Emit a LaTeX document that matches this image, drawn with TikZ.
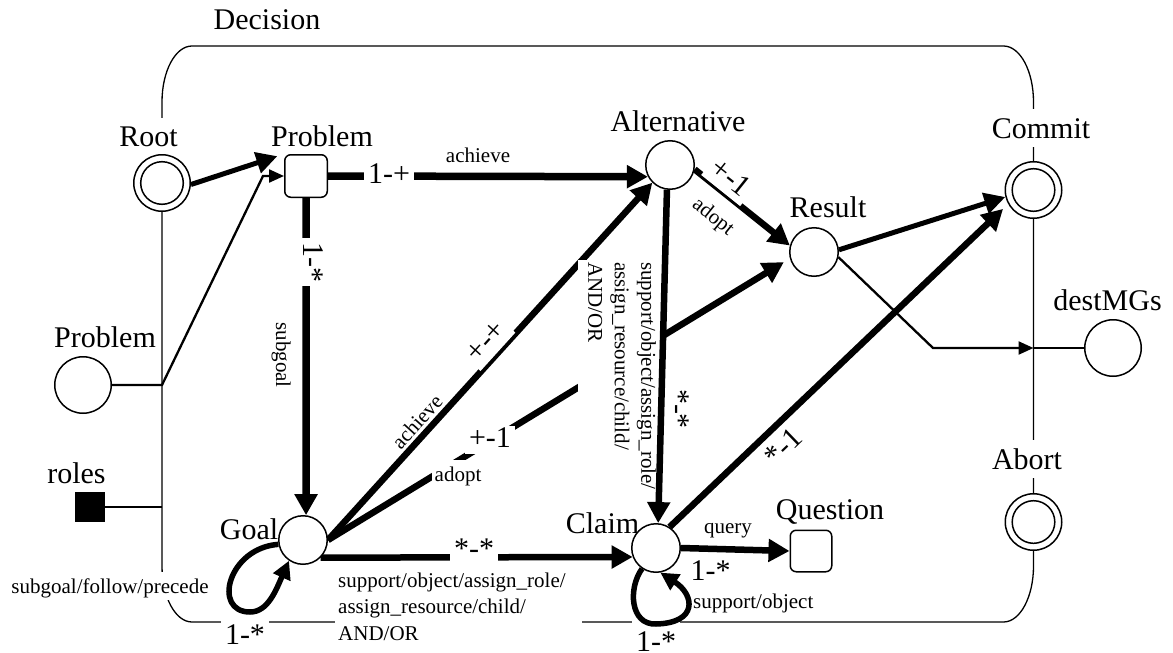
\documentclass[tikz,border=0pt]{standalone}
\usepackage{fontspec}
\setmainfont{Liberation Serif}
\usetikzlibrary{arrows.meta}
\newcommand\bigf{\fontsize{30}{36}\selectfont}
\newcommand\smallf{\fontsize{21}{26.5}\selectfont}
\pgfdeclarelayer{edges}
\pgfsetlayers{edges,main}
\tikzset{
  ring/.style={circle, draw, fill=white, line width=1.5pt, inner sep=0pt, minimum size=48.5pt},
  bigring/.style={ring, minimum size=56.5pt},
  endring/.style={bigring, path picture={\draw[line width=1.5pt] (path picture bounding box.center) circle[radius=21.3pt];}},
  sq/.style={rectangle, rounded corners=6pt, draw, fill=white, line width=1.5pt, inner sep=0pt, minimum size=42.5pt},
  blk/.style={rectangle, fill=black, inner sep=0pt, minimum size=30pt},
  lab/.style={font=\bigf, anchor=base, text height=26.7pt, text depth=6.5pt, inner xsep=3pt, inner ysep=2.5pt},
  cut/.style={fill=white},
  mult/.style={font=\bigf, anchor=base, fill=white, inner xsep=4pt, inner ysep=1.5pt, text depth=5.8pt},
  rel/.style={font=\smallf, anchor=base, inner xsep=3pt, inner ysep=2.5pt, text height=18.7pt, text depth=4.6pt},
  relblock/.style={font=\smallf, align=left, fill=white, inner xsep=2pt, inner ysep=2pt},
  heavy/.style={line width=6.5pt, -{Triangle[length=21pt,width=22pt]}},
  heavier/.style={heavy, line width=7.5pt},
  medium/.style={line width=5pt, -{Triangle[length=21pt,width=21pt]}},
  loopline/.style={line width=5.5pt, -{Triangle[length=18pt,width=18pt]}},
  wire/.style={line width=2.3pt},
  wirearrow/.style={wire, -{Triangle[length=15pt,width=13pt]}},
  frame/.style={line width=1.3pt}
}
\begin{document}
\begin{tikzpicture}[x=1pt,y=-1pt]
\useasboundingbox (0,0) rectangle (1173,653);

% state labels
\node[lab] (decl) at (267,29.3) {Decision};
\node[lab, cut] (rootl) at (148.5,146.7) {Root};
\node[lab] (probl) at (322,146.7) {Problem};
\node[lab] (pcl) at (105,347) {Problem};
\node[lab] (rolesl) at (76.5,483) {roles};
\node[lab] (goall) at (249,539.5) {Goal};
\node[lab] (altl) at (678,131.7) {Alternative};
\node[lab] (resl) at (828,217) {Result};
\node[lab, cut] (coml) at (1041,138.3) {Commit};
\node[lab] (destl) at (1107.5,310) {destMGs};
\node[lab, cut] (abl) at (1027,469.3) {Abort};
\node[lab] (claiml) at (602.5,533.3) {Claim};
\node[lab] (questl) at (830,519.3) {Question};

% states
\node[endring] (root) at (162,183) {};
\node[sq] (prob) at (306,176) {};
\node[bigring] (pc) at (83,385) {};
\node[blk] (roles) at (90,507) {};
\node[ring] (goal) at (303,540) {};
\node[ring] (alt) at (670,165) {};
\node[ring] (result) at (814,252) {};
\node[endring] (commit) at (1033.5,190) {};
\node[bigring] (dest) at (1113,348) {};
\node[endring] (abort) at (1033.5,522) {};
\node[ring] (claim) at (656,548) {};
\node[sq, minimum size=41.5pt] (quest) at (811,551) {};

% junctions on the frame
\coordinate (pjoin) at (162,385);
\coordinate (rjoin) at (162,507);
\coordinate (dbend) at (933,348);
\coordinate (djoin) at (1033.5,348);

\begin{pgfonlayer}{edges}
% decision frame
\draw[frame] (192,46) -- (1003.5,46) .. controls (1020.1,46) and (1033.5,71) .. (1033.5,102)
  -- (1033.5,566) .. controls (1033.5,597) and (1020.1,622) .. (1003.5,622)
  -- (192,622) .. controls (175.4,622) and (162,597) .. (162,566)
  -- (162,102) .. controls (162,71) and (175.4,46) .. (192,46) -- cycle;

% transitions
\draw[medium, shorten >=7pt] (root.-3) -- (prob.north west);
\draw[wirearrow] (pc.east) -- (pjoin) -- ([xshift=-21pt]prob.west) -- (prob.west);
\draw[wire] (roles.east) -- (rjoin);
\draw[heavier] (prob.east) -- (alt.208);
\draw[heavier] (prob.south) -- (goal.83);
\draw[heavy] (goal.east) -- (alt.225);
\draw[heavy, shorten >=7pt] (goal.east) -- (result.195);
\draw[heavy] (goal.-45) -- (claim.201);
\draw[heavy] (alt.-10) -- (result.165);
\draw[heavy, shorten >=7pt] (claim.57) -- (commit.209);
\draw[medium] (result.5) -- (commit.194);
\draw[wirearrow] (result.-12) -- (dbend) -- (djoin);
\draw[wire] (dest.west) -- (djoin);
\draw[heavy] (claim.east) -- (quest.west);
\draw[loopline] (goal.190) .. controls (228,548) and (212,612) .. (250,612)
  .. controls (268,612) and (276,590) .. (goal.236);

% transition labels
\node[rel] (t1) at (478,162) {achieve};
\node[mult] (m1) at (389,183) {1-+};
\node[mult, rotate=-90, anchor=base west] (m2) at (303,238) {1-*};
\node[rel, rotate=-90] (t2) at (276,355) {subgoal};
\node[rel, rotate=47.8] (t3) at (422.3,426.8) {achieve};
\node[mult, rotate=47.8] (m3) at (492.5,346.9) {+-+};
\node[mult] (m4) at (490,447) {+-1};
\node[rel, fill=white] (t4) at (458,481) {adopt};
\node[mult, rotate=-38.6] (m5) at (725.2,184.8) {+-1};
\node[rel, rotate=-38.6] (t5) at (709.6,221.3) {adopt};
\node[relblock, rotate=-90, anchor=north west] (t6) at (662,260)
  {\strut support/object/assign\_role/\\\strut assign\_resource/child/\\\strut AND/OR};
\draw[heavy] (alt.-97) -- (claim.85);
\node[mult, fill=none, rotate=-90] (m6) at (669.5,409) {*-*};
\node[mult, fill=none, rotate=43.9] (m7) at (790,454) {*-1};
\node[mult] (m8) at (474,558) {*-*};
\node[relblock, text width=241pt, inner xsep=3pt, anchor=north west] (t7) at (335,566.45)
  {\strut support/object/assign\_role/\\\strut assign\_resource/child/\\\strut AND/OR};
\node[rel] (t8) at (728,533) {query};
\node[mult, fill=none] (m9) at (710.7,580) {1-*};
\node[rel, anchor=base west] (t9) at (690,608) {support/object};
\node[mult, text height=33pt, text depth=0pt] (m10) at (656,651.5) {1-*};
\node[mult, text height=25pt] (m11) at (245,644) {1-*};
\node[rel, fill=white] (t10) at (110,593.3) {subgoal/follow/precede};

% claim self-loop, drawn over its label box
\draw[loopline] (claim.236) .. controls (628,588) and (630,625) .. (656,624)
  .. controls (698,623) and (695,595) .. (claim.280);
\end{pgfonlayer}
\end{tikzpicture}
\end{document}
